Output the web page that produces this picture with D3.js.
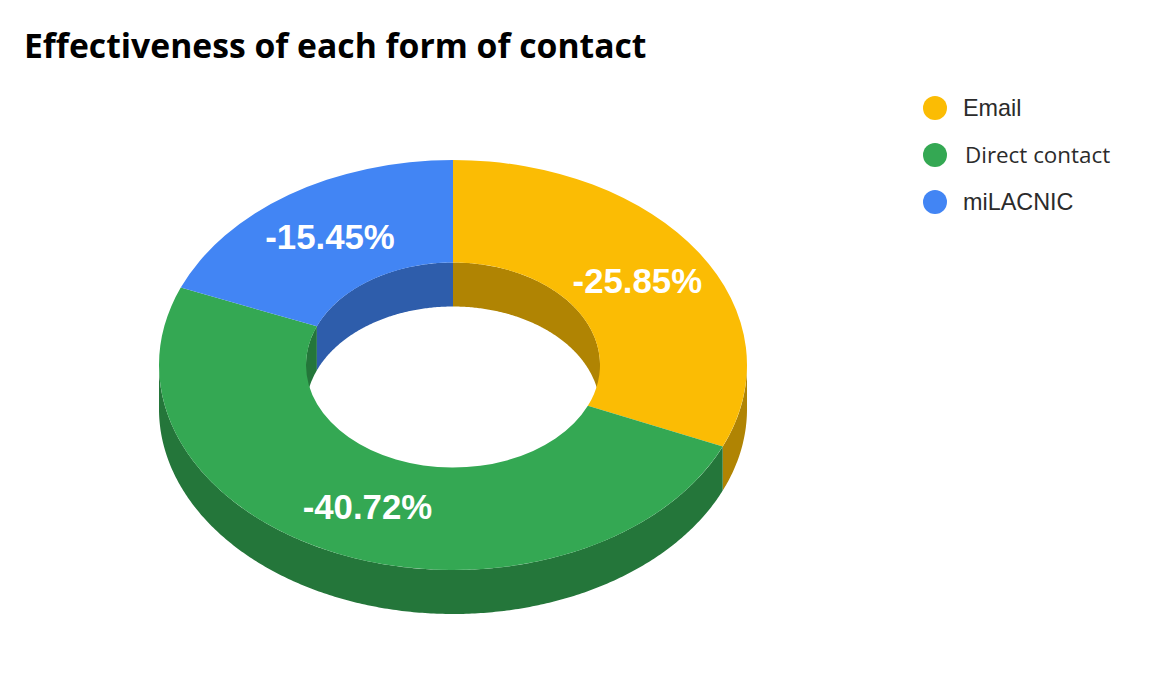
<!DOCTYPE html>
<html><head><meta charset="utf-8">
<script src="https://cdn.jsdelivr.net/npm/d3@7/dist/d3.min.js"></script>
<style>html,body{margin:0;padding:0;background:#fff}svg{display:block}</style>
</head><body><svg id="c" width="1161" height="678"></svg>
<script>
const chartTitle = "Effectiveness of each form of contact";
const categories = ["Email", "Direct contact", "miLACNIC"];
const values = [-25.85, -40.72, -15.45];
const colors = ["#fbbc04", "#34a853", "#4285f4"];
const wallColors = ["#b08403", "#24763a", "#2e5dab"];

const W = 1161, H = 678;
const cx = 453, cy = 365, rx = 294, ry = 205, holeRatio = 0.5, depth = 44;
const svg = d3.select("#c");

const pie = d3.pie().sort(null).value(d => Math.abs(d));
const slices = pie(values);
const rScale = d3.scaleLinear().domain([0, 1]).range([0, rx]);
const yRatio = ry / rx;
const proj = (a, r, dz) => [cx + rScale(r) * Math.sin(a), cy - rScale(r) * yRatio * Math.cos(a) + dz];
const line = d3.line();

function wall(a0, a1, r) {
  const n = Math.max(2, Math.ceil((a1 - a0) / 0.01));
  const as = d3.range(n + 1).map(i => a0 + (a1 - a0) * i / n);
  const pts = as.map(a => proj(a, r, 0)).concat(as.slice().reverse().map(a => proj(a, r, depth)));
  return line(pts) + "Z";
}
const TAU = 2 * Math.PI;
// outer walls: front half; inner walls: back half of the hole
const gOuter = svg.append("g"), gInner = svg.append("g");
slices.forEach((s, i) => {
  const a0 = Math.max(s.startAngle, Math.PI / 2), a1 = Math.min(s.endAngle, 3 * Math.PI / 2);
  if (a1 > a0) gOuter.append("path").attr("d", wall(a0, a1, 1)).attr("fill", wallColors[i]);
  [[0, Math.PI / 2], [3 * Math.PI / 2, TAU]].forEach(([lo, hi]) => {
    const b0 = Math.max(s.startAngle, lo), b1 = Math.min(s.endAngle, hi);
    if (b1 > b0) gInner.append("path").attr("d", wall(b0, b1, holeRatio)).attr("fill", wallColors[i]);
  });
});

const arc = d3.arc().innerRadius(rScale(holeRatio)).outerRadius(rScale(1));
svg.append("g").attr("transform", `translate(${cx},${cy}) scale(1,${yRatio})`)
  .selectAll("path").data(slices).join("path")
  .attr("d", arc).attr("fill", (d, i) => colors[i]);

const fmt = v => "-" + d3.format(".2f")(Math.abs(v)) + "%";
svg.append("g").selectAll("text").data(slices).join("text")
  .attr("x", d => proj((d.startAngle + d.endAngle) / 2, 0.75, 0)[0])
  .attr("y", d => proj((d.startAngle + d.endAngle) / 2, 0.75, 0)[1] + 12)
  .attr("text-anchor", "middle")
  .attr("font-family", "'Liberation Sans', Arial, sans-serif")
  .attr("font-weight", 700).attr("font-size", 34.8).attr("fill", "#fff")
  .text(d => fmt(d.data));

svg.append("text").attr("x", 24).attr("y", 58)
  .attr("font-family", "'Open Sans', sans-serif").attr("font-weight", 700)
  .attr("font-size", 33.7).attr("fill", "#000").text(chartTitle);

const legendY = d3.scalePoint().domain(categories).range([108, 202]);
const lg = svg.append("g").selectAll("g").data(categories).join("g");
lg.append("circle").attr("cx", 935).attr("cy", d => legendY(d)).attr("r", 12)
  .attr("fill", (d, i) => colors[i]);
lg.append("text").attr("x", (d, i) => i === 1 ? 965 : 963).attr("y", d => legendY(d) + 8)
  .attr("font-family", (d, i) => i === 1 ? "'Open Sans', sans-serif" : "'Liberation Sans', Arial, sans-serif")
  .attr("font-size", (d, i) => i === 1 ? 22.4 : 23.4).attr("fill", "#2b2b2b")
  .text(d => d);
</script></body></html>
